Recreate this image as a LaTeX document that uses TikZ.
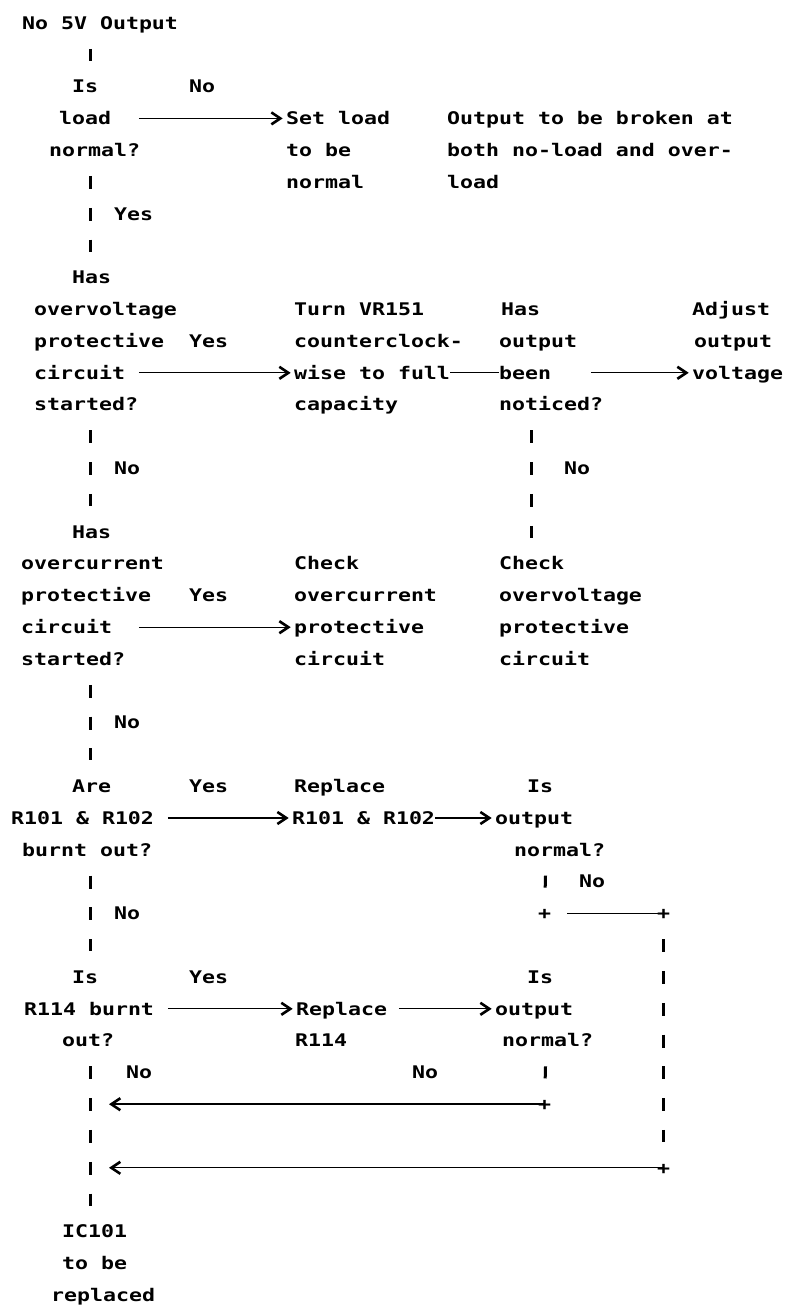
\documentclass[tikz,border=0pt]{standalone}
\usepackage{fontspec}
\newfontfamily\dm[FakeStretch=1.24]{DejaVu Sans Mono}
\usetikzlibrary{arrows.meta}
\newcommand\Y[1]{{23+31.8*(#1)}}
\begin{document}
\begin{tikzpicture}[x=0.5pt,y=-0.5pt,
  txt/.style={font=\dm\bfseries\fontsize{8.7pt}{10pt}\selectfont, inner sep=0pt, anchor=west,
              text height=6.35pt, text depth=0pt, xshift=-0.65pt},
  plus/.style={txt, anchor=center, xshift=0pt},
  hconn/.style={line width=0.6pt},
  arr/.style={hconn, -{Straight Barb[length=4.5pt,width=6pt,line width=1.3pt]}, shorten >=1.5pt},
  vconn/.style={line width=1.5pt, dash pattern=on 6.5pt off 9.4pt, shorten <=9.5pt, shorten >=9.5pt}]
\useasboundingbox (0,0) rectangle (785,1306);
\coordinate (colA) at (90,0);
\coordinate (colB) at (531,0);
\coordinate (colC) at (546,0);
\coordinate (colD) at (665,0);
% start
\node[txt] (start) at (23,\Y{0}) {No 5V Output};
% Q1
\node[txt] (q1a) at (73,\Y{2}) {Is};
\node[txt] (q1b) at (60,\Y{3}) {load};
\node[txt] (q1c) at (50,\Y{4}) {normal?};
\node[txt] (l1) at (190,\Y{2}) {No};
\node[txt] (s1a) at (287,\Y{3}) {Set load};
\node[txt] (s1b) at (287,\Y{4}) {to be};
\node[txt] (s1c) at (287,\Y{5}) {normal};
\node[txt] (note1) at (448,\Y{3}) {Output to be broken at};
\node[txt] (note2) at (448,\Y{4}) {both no-load and over-};
\node[txt] (note3) at (448,\Y{5}) {load};
\node[txt] (l2) at (115,\Y{6}) {Yes};
% Q2
\node[txt] (q2a) at (73,\Y{8}) {Has};
\node[txt] (q2b) at (35,\Y{9}) {overvoltage};
\node[txt] (q2c) at (35,\Y{10}) {protective};
\node[txt] (q2d) at (35,\Y{11}) {circuit};
\node[txt] (q2e) at (35,\Y{12}) {started?};
\node[txt] (l3) at (190,\Y{10}) {Yes};
\node[txt] (t1a) at (295,\Y{9}) {Turn VR151};
\node[txt] (t1b) at (295,\Y{10}) {counterclock-};
\node[txt] (t1c) at (295,\Y{11}) {wise to full};
\node[txt] (t1d) at (295,\Y{12}) {capacity};
\node[txt] (q6a) at (502,\Y{9}) {Has};
\node[txt] (q6b) at (500,\Y{10}) {output};
\node[txt] (q6c) at (500,\Y{11}) {been};
\node[txt] (q6d) at (500,\Y{12}) {noticed?};
\node[txt] (a1a) at (693,\Y{9}) {Adjust};
\node[txt] (a1b) at (695,\Y{10}) {output};
\node[txt] (a1c) at (693,\Y{11}) {voltage};
\node[txt] (l4) at (115,\Y{14}) {No};
\node[txt] (l5) at (565,\Y{14}) {No};
% Q3
\node[txt] (q3a) at (73,\Y{16}) {Has};
\node[txt] (q3b) at (22,\Y{17}) {overcurrent};
\node[txt] (q3c) at (22,\Y{18}) {protective};
\node[txt] (q3d) at (22,\Y{19}) {circuit};
\node[txt] (q3e) at (22,\Y{20}) {started?};
\node[txt] (l6) at (190,\Y{18}) {Yes};
\node[txt] (c1a) at (295,\Y{17}) {Check};
\node[txt] (c1b) at (295,\Y{18}) {overcurrent};
\node[txt] (c1c) at (295,\Y{19}) {protective};
\node[txt] (c1d) at (295,\Y{20}) {circuit};
\node[txt] (c2a) at (500,\Y{17}) {Check};
\node[txt] (c2b) at (500,\Y{18}) {overvoltage};
\node[txt] (c2c) at (500,\Y{19}) {protective};
\node[txt] (c2d) at (500,\Y{20}) {circuit};
\node[txt] (l7) at (115,\Y{22}) {No};
% Q4
\node[txt] (q4a) at (73,\Y{24}) {Are};
\node[txt] (q4b) at (12,\Y{25}) {R101 \& R102};
\node[txt] (q4c) at (23,\Y{26}) {burnt out?};
\node[txt] (l8) at (190,\Y{24}) {Yes};
\node[txt] (r1a) at (295,\Y{24}) {Replace};
\node[txt] (r1b) at (293,\Y{25}) {R101 \& R102};
\node[txt] (q7a) at (528,\Y{24}) {Is};
\node[txt] (q7b) at (496,\Y{25}) {output};
\node[txt] (q7c) at (515,\Y{26}) {normal?};
\node[txt] (l9) at (580,\Y{27}) {No};
\node[txt] (l10) at (115,\Y{28}) {No};
\node[plus] (p1) at (546,\Y{28}) {+};
\node[plus] (p2) at (665,\Y{28}) {+};
% Q5
\node[txt] (q5a) at (73,\Y{30}) {Is};
\node[txt] (q5b) at (25,\Y{31}) {R114 burnt};
\node[txt] (q5c) at (63,\Y{32}) {out?};
\node[txt] (l11) at (190,\Y{30}) {Yes};
\node[txt] (r2a) at (297,\Y{31}) {Replace};
\node[txt] (r2b) at (296,\Y{32}) {R114};
\node[txt] (q8a) at (528,\Y{30}) {Is};
\node[txt] (q8b) at (496,\Y{31}) {output};
\node[txt] (q8c) at (503,\Y{32}) {normal?};
\node[txt] (l12) at (127,\Y{33}) {No};
\node[txt] (l13) at (413,\Y{33}) {No};
\node[plus] (p3) at (546,\Y{34}) {+};
\node[plus] (p4) at (665,\Y{36}) {+};
\coordinate (m34) at (106,\Y{34});
\coordinate (m36) at (106,\Y{36});
% end
\node[txt] (e1) at (63,\Y{38}) {IC101};
\node[txt] (e2) at (63,\Y{39}) {to be};
\node[txt] (e3) at (52,\Y{40}) {replaced};
% vertical connectors
\draw[vconn] (start.south -| colA) -- (q1a.north -| colA);
\draw[vconn] (q1c.south -| colA) -- (q2a.north -| colA);
\draw[vconn] (q2e.south -| colA) -- (q3a.north -| colA);
\draw[vconn] (q3e.south -| colA) -- (q4a.north -| colA);
\draw[vconn] (q4c.south -| colA) -- (q5a.north -| colA);
\draw[vconn] (q5c.south -| colA) -- (e1.north -| colA);
\draw[vconn] (q6d.south -| colB) -- (c2a.north -| colB);
\draw[vconn] (q7c.south -| colC) -- (p1.north);
\draw[vconn] (q8c.south -| colC) -- (p3.north);
\draw[vconn] (p2.south) -- (p4.north);
% horizontal connectors
\draw[arr, shorten <=13.75pt] (q1b.east) -- (s1a.west);
\draw[arr, shorten <=6.75pt] (q2d.east) -- (t1c.west);
\draw[hconn] (t1c.east) -- (q6c.west);
\draw[arr, shorten <=19.75pt] (q6c.east) -- (a1c.west);
\draw[arr, shorten <=13.25pt] (q3d.east) -- (c1c.west);
\draw[arr, shorten <=6.75pt] (q4b.east) -- (r1b.west);
\draw[arr] (r1b.east) -- (q7b.west);
\draw[arr, shorten <=6.75pt] (q5b.east) -- (r2a.west);
\draw[arr, shorten <=5.75pt] (r2a.east) -- (q8b.west);
\draw[hconn, shorten <=7.75pt] (p1.east) -- (p2.center);
\draw[arr, line width=1pt] (p3.center) -- (m34);
\draw[arr] (p4.center) -- (m36);
\end{tikzpicture}
\end{document}
